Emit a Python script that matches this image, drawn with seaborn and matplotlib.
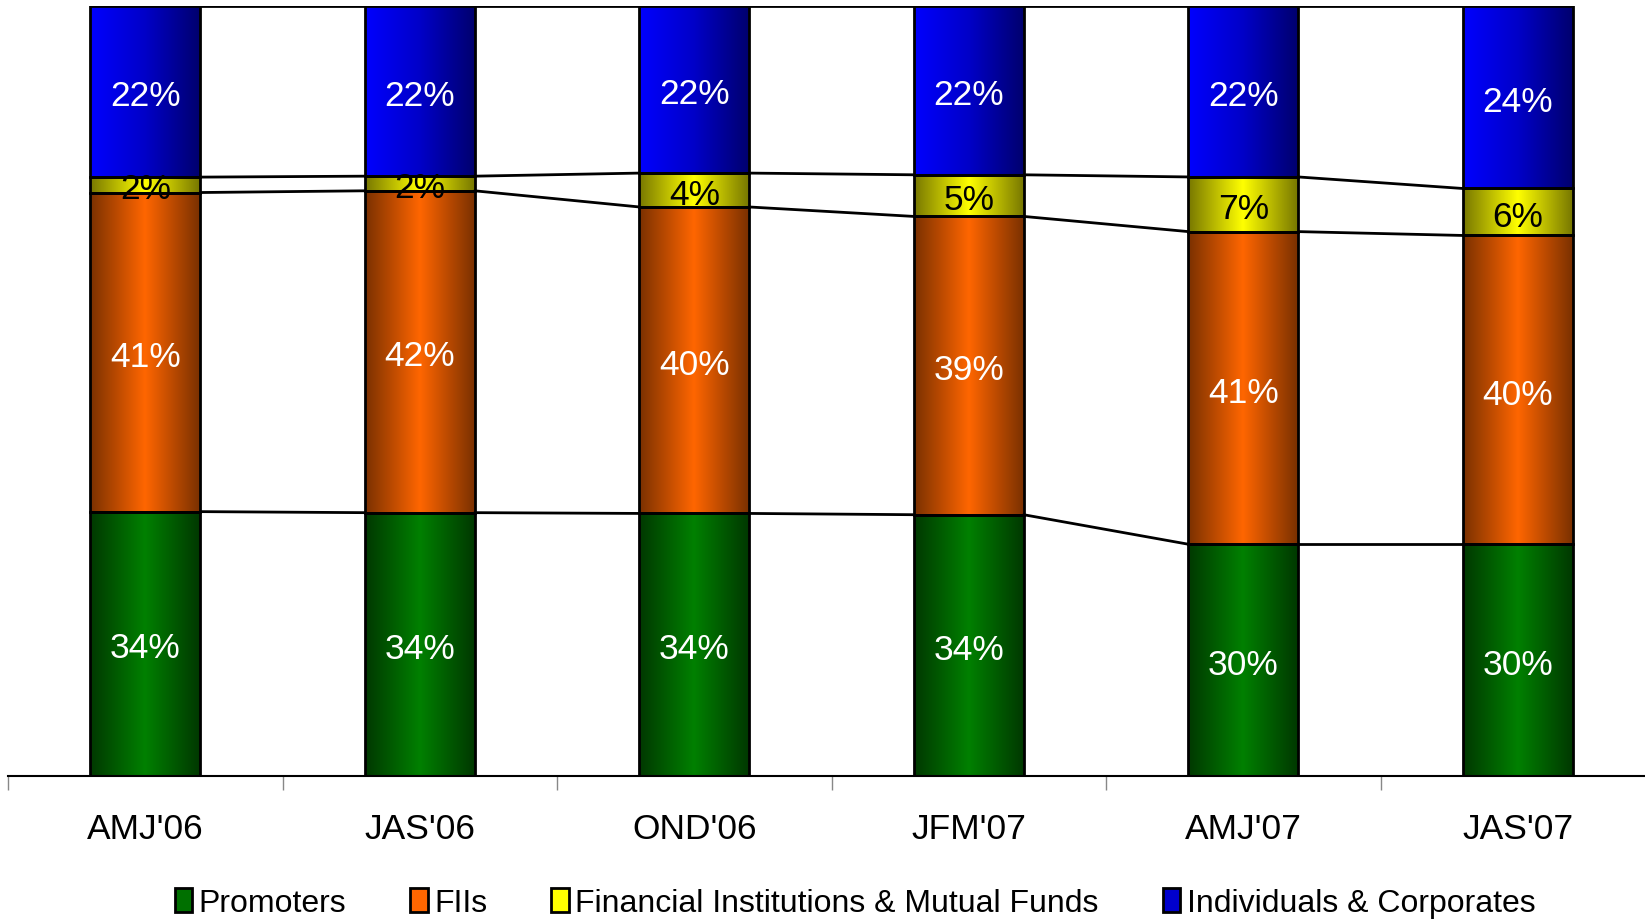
import numpy as np
import matplotlib
matplotlib.use("Agg")
import matplotlib.pyplot as plt
from matplotlib.colors import LinearSegmentedColormap
from matplotlib.patches import Patch
import seaborn as sns

# shareholding pattern, % of total
quarters = ["AMJ'06", "JAS'06", "OND'06", "JFM'07", "AMJ'07", "JAS'07"]
promoters = [34.3, 34.2, 34.1, 33.9, 30.1, 30.1]
fiis = [41.4, 41.8, 39.8, 38.7, 40.6, 40.1]
fin_mf = [2.0, 1.9, 4.4, 5.4, 7.1, 6.1]
indiv = [22.2, 22.1, 21.7, 21.9, 22.2, 23.7]
series_names = ["Promoters", "FIIs", "Financial Institutions & Mutual Funds",
                "Individuals & Corporates"]

# horizontal gradient stops for each series (left -> right)
grad_stops = [
    ["#003800", "#008000", "#003800"],
    ["#7a3000", "#ff6600", "#7a3000"],
    ["#777700", "#ffff00", "#777700"],
    ["#0000ff", "#0000c8", "#00006e"],
]
legend_cols = ["#007000", "#ff6600", "#ffff00", "#0000cc"]
text_cols = ["white", "white", "black", "white"]

sns.set_style("white")
plt.rcParams["font.family"] = ["Liberation Sans", "DejaVu Sans"]
plt.rcParams["text.color"] = "black"
plt.rcParams["xtick.color"] = "black"

fig = plt.figure(figsize=(16.45, 9.2), dpi=100)
ax = fig.add_axes([8 / 1645, 143 / 920, 1647 / 1645, 770 / 920])

raw = np.array([promoters, fiis, fin_mf, indiv])
shares = raw / raw.sum(axis=0) * 100  # 100% stacked
bottoms = np.vstack([np.zeros(len(quarters)), np.cumsum(shares, axis=0)[:-1]])

for k in range(len(series_names)):
    n0 = len(ax.patches)
    sns.barplot(x=quarters, y=shares[k], bottom=bottoms[k], width=0.4,
                color=legend_cols[k], ax=ax)
    cmap = LinearSegmentedColormap.from_list("g%d" % k, grad_stops[k])
    grad = np.linspace(0, 1, 256).reshape(1, -1)
    for p in ax.patches[n0:]:
        x, y = p.get_x(), p.get_y()
        w, h = p.get_width(), p.get_height()
        im = ax.imshow(grad, extent=[x, x + w, y, y + h], aspect="auto",
                       cmap=cmap, zorder=2, interpolation="bilinear")
        im.set_clip_path(p)
        p.set_facecolor("none")
        p.set_edgecolor("black")
        p.set_linewidth(2)
        p.set_zorder(3)
    for i in range(len(quarters)):
        ax.annotate(f"{round(raw[k][i])}%", (i, bottoms[k][i] + shares[k][i] / 2),
                    xytext=(0, -3), textcoords="offset points",
                    ha="center", va="center", fontsize=25.5, color=text_cols[k], zorder=5)

# series lines joining the segment boundaries
levels = np.cumsum(shares, axis=0)
for lev in levels:
    for i in range(len(quarters) - 1):
        ax.plot([i + 0.2, i + 0.8], [lev[i], lev[i + 1]], color="black", lw=2, zorder=4)

ax.set_xlim(-0.5, 5.5)
ax.set_ylim(0, 100)
for s in ["left", "right", "top"]:
    ax.spines[s].set_visible(False)
ax.spines["bottom"].set_color("black")
ax.spines["bottom"].set_linewidth(1.5)
ax.set_yticks([])
ax.set_xticks(range(len(quarters)))
ax.set_xticklabels(quarters, fontsize=25.5, color="black")
ax.set_xticks(np.arange(-0.5, 6, 1), minor=True)
ax.tick_params(axis="x", which="major", bottom=True, length=0, pad=26)
ax.tick_params(axis="x", which="minor", bottom=True, length=10, color="#888888",
               width=1, direction="out")
ax.set_xlabel("")
ax.set_ylabel("")

handles = [Patch(facecolor=c, edgecolor="black", linewidth=2) for c in legend_cols]
fig.legend(handles, series_names, loc="center", bbox_to_anchor=(815 / 1568, 16 / 920),
           ncol=4, frameon=False, prop={"size": 23},
           handlelength=0.55, handleheight=0.75, handletextpad=0.2, columnspacing=2.0,
           borderpad=0, labelcolor="black")

fig.savefig("out.png", dpi=100)
